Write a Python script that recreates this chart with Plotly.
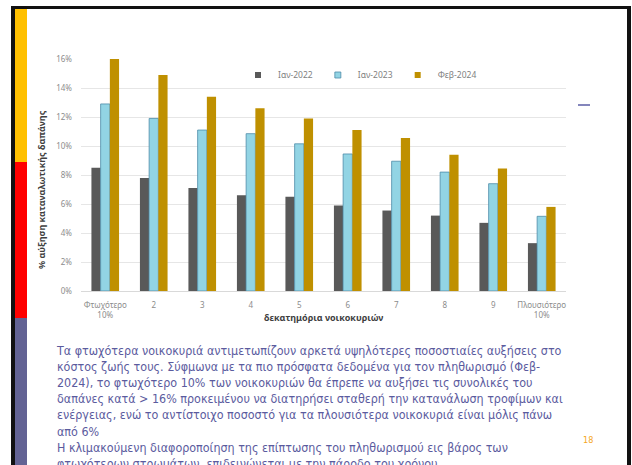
import plotly.graph_objects as go

# deciles of households
deciles = ["Φτωχότερο<br>10%", "2", "3", "4", "5", "6", "7", "8", "9", "Πλουσιότερο<br>10%"]

# % increase of consumer spending needed, per period
jan_2022 = [8.5, 7.8, 7.1, 6.6, 6.5, 5.9, 5.55, 5.2, 4.7, 3.3]
jan_2023 = [12.9, 11.9, 11.1, 10.85, 10.15, 9.45, 8.95, 8.2, 7.4, 5.15]
feb_2024 = [16.0, 14.9, 13.4, 12.6, 11.9, 11.1, 10.55, 9.4, 8.45, 5.8]

slide_text = [
    "Τα φτωχότερα νοικοκυριά αντιμετωπίζουν αρκετά υψηλότερες ποσοστιαίες αυξήσεις στο",
    "κόστος ζωής τους. Σύφμωνα με τα πιο πρόσφατα δεδομένα για τον πληθωρισμό (Φεβ-",
    "2024), το φτωχότερο 10% των νοικοκυριών θα έπρεπε να αυξήσει τις συνολικές του",
    "δαπάνες κατά > 16% προκειμένου να διατηρήσει σταθερή την κατανάλωση τροφίμων και",
    "ενέργειας, ενώ το αντίστοιχο ποσοστό για τα πλουσιότερα νοικοκυριά είναι μόλις πάνω",
    "από 6%",
    "Η κλιμακούμενη διαφοροποίηση της επίπτωσης του πληθωρισμού εις βάρος των",
    "φτωχότερων στρωμάτων, επιδεινώνεται με την πάροδο του χρόνου",
]

W, H = 632, 465
L, R, T, B = 81, 66, 59, 174
pw, ph = W - L - R, H - T - B


def px(x):
    return (x - L) / pw


def py(y):
    return (H - B - y) / ph


chart_font = "Noto Sans, Open Sans, sans-serif"
text_font = "Liberation Sans Narrow, DejaVu Sans Condensed, Roboto, sans-serif"

colors = {"Ιαν-2022": "#595959", "Ιαν-2023": "#92D4E4", "Φεβ-2024": "#BF9000"}
series = {"Ιαν-2022": jan_2022, "Ιαν-2023": jan_2023, "Φεβ-2024": feb_2024}

fig = go.Figure()
for name, vals in series.items():
    line = dict(color="#4C8CA8", width=0.8) if name == "Ιαν-2023" else dict(width=0)
    fig.add_bar(x=deciles, y=vals, name=name, marker_color=colors[name], marker_line=line,
                legendgroup=name, showlegend=False)
    # small square legend keys like the original
    fig.add_scatter(x=[None], y=[None], mode="markers", name=name, legendgroup=name,
                    marker=dict(symbol="square", size=6, color=colors[name], line=line))

fig.update_layout(
    width=W, height=H,
    margin=dict(l=L, r=R, t=T, b=B),
    paper_bgcolor="white", plot_bgcolor="white",
    barmode="group", bargap=0.43, bargroupgap=0,
    font=dict(family=chart_font, color="#8C8C8C", size=8),
    showlegend=True,
    legend=dict(orientation="h", x=px(360), y=py(75), xanchor="center", yanchor="middle",
                font=dict(size=8.5, color="#7F7F7F"), bgcolor="rgba(0,0,0,0)",
                itemwidth=30, tracegroupgap=0),
)
fig.update_yaxes(range=[0, 16], dtick=2, ticksuffix="%", showgrid=True, gridcolor="#E6E6E6",
                 gridwidth=1, zeroline=False, showline=False, ticklabelstandoff=8,
                 tickfont=dict(size=8, color="#8C8C8C"))
fig.update_xaxes(showline=True, linecolor="#D9D9D9", linewidth=1, ticks="",
                 ticklabelstandoff=6, tickfont=dict(size=8, color="#8C8C8C"), tickangle=0)

# axis titles
fig.add_annotation(text="<b>% αύξηση καταναλωτικής δαπάνης</b>", xref="paper", yref="paper",
                   x=px(41), y=py(190), xanchor="center", yanchor="middle", textangle=-90,
                   showarrow=False, font=dict(family=chart_font, size=9, color="#404040"))
fig.add_annotation(text="<b>δεκατημόρια νοικοκυριών</b>", xref="paper", yref="paper",
                   x=px(323), y=py(317), xanchor="center", yanchor="middle", showarrow=False,
                   font=dict(family=chart_font, size=9, color="#404040"))

# slide text
fig.add_annotation(text="<br>".join(slide_text), xref="paper", yref="paper",
                   x=px(54), y=py(341), xanchor="left", yanchor="top", align="left",
                   showarrow=False, font=dict(family=text_font, size=12.4, color="#5B5B9E"))
fig.add_annotation(text="18", xref="paper", yref="paper", x=px(588), y=py(440),
                   xanchor="center", yanchor="middle", showarrow=False,
                   font=dict(family=text_font, size=9, color="#F5A623"))

# slide decoration: frame, side stripes, little dash
shapes = [
    dict(x0=15, x1=27, y0=8, y1=162, color="#FFC000"),
    dict(x0=15, x1=27, y0=162, y1=318, color="#FF0000"),
    dict(x0=15, x1=27, y0=318, y1=470, color="#636394"),
    dict(x0=11, x1=15, y0=6, y1=470, color="#111111"),
    dict(x0=11, x1=631, y0=6, y1=9, color="#111111"),
    dict(x0=627, x1=631, y0=6, y1=470, color="#111111"),
]
for s in shapes:
    fig.add_shape(type="rect", xref="paper", yref="paper",
                  x0=px(s["x0"]), x1=px(s["x1"]), y0=py(s["y1"]), y1=py(s["y0"]),
                  fillcolor=s["color"], line_width=0, layer="above")
fig.add_shape(type="line", xref="paper", yref="paper", x0=px(578), x1=px(590),
              y0=py(105), y1=py(105), line=dict(color="#5B5EA6", width=1.5))

fig.write_html("out.html", config={"displayModeBar": False},
               post_script="document.body.style.margin='0';document.body.style.overflow='hidden';")
